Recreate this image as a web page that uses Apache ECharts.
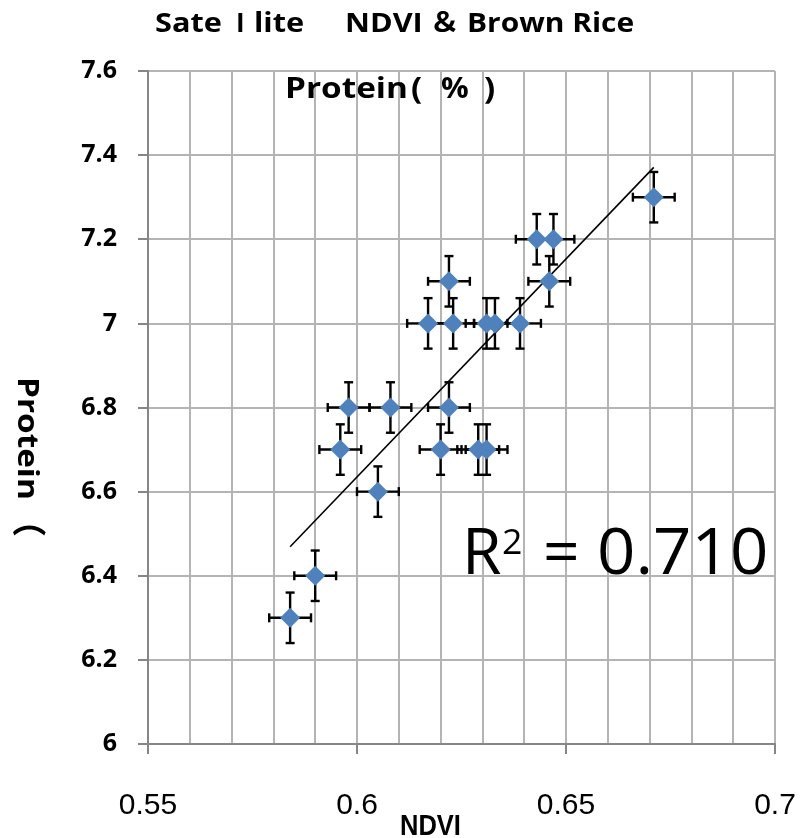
<!DOCTYPE html>
<html>
<head>
<meta charset="utf-8">
<script src="https://cdn.jsdelivr.net/npm/echarts@6/dist/echarts.min.js"></script>
<style>
html,body{margin:0;padding:0;background:#fff;}
#chart{width:800px;height:838px;}
</style>
</head>
<body>
<div id="chart"></div>
<script>
// ---- data ----
const ndvi = [0.643, 0.647, 0.646, 0.622, 0.617, 0.623, 0.631, 0.633, 0.639, 0.598,
              0.608, 0.622, 0.596, 0.620, 0.629, 0.631, 0.605, 0.590, 0.584, 0.671];
const protein = [7.2, 7.2, 7.1, 7.1, 7.0, 7.0, 7.0, 7.0, 7.0, 6.8,
                 6.8, 6.8, 6.7, 6.7, 6.7, 6.7, 6.6, 6.4, 6.3, 7.3];
const ndviErr = 0.005;
const proteinErr = 0.06;
const trendX = [0.584, 0.671];
const trendY = [6.469, 7.371];
const xTickLabels = [0.55, 0.6, 0.65, 0.7];
const yTickLabels = [6, 6.2, 6.4, 6.6, 6.8, 7, 7.2, 7.4, 7.6];
const r2Text = '0.710';

const points = ndvi.map((x, i) => [x, protein[i]]);
const trend = trendX.map((x, i) => [x, trendY[i]]);

const chart = echarts.init(document.getElementById('chart'), null, {renderer: 'canvas'});

const gridColor = '#b4b4b4';
const axisColor = '#868686';
const boldFont = (s) => 'bold ' + s + 'px "Open Sans", "Noto Sans CJK SC", sans-serif';
const cjkBold = (s) => 'bold ' + s + 'px "Noto Sans CJK SC", sans-serif';

function txt(text, x, y, font, sx, extra) {
  return Object.assign({
    type: 'text', x: x, y: y, z: 10, scaleX: sx || 1,
    style: {text: text, font: font, fill: '#000', textAlign: 'left', textVerticalAlign: 'top'}
  }, extra || {});
}

const option = {
  animation: false,
  backgroundColor: '#ffffff',
  grid: {left: 148, right: 25, top: 71, bottom: 94},
  xAxis: {
    type: 'value',
    min: 0.55, max: 0.7, interval: 0.05,
    axisLine: {show: true, onZero: false, lineStyle: {color: axisColor, width: 2}},
    axisTick: {show: true, inside: false, length: 10, lineStyle: {color: axisColor, width: 2}},
    minorTick: {show: true, splitNumber: 5, length: 0, lineStyle: {color: gridColor}},
    splitLine: {show: true, lineStyle: {color: gridColor, width: 2}},
    minorSplitLine: {show: true, lineStyle: {color: gridColor, width: 2}},
    axisLabel: {
      margin: 47,
      fontFamily: 'Liberation Sans, Arial, sans-serif',
      fontSize: 30, color: '#000',
      formatter: v => {
        const m = xTickLabels.find(t => Math.abs(t - v) < 1e-9);
        return m === undefined ? '' : String(m);
      }
    }
  },
  yAxis: {
    type: 'value',
    min: 6, max: 7.6, interval: 0.2,
    axisLine: {show: true, onZero: false, lineStyle: {color: axisColor, width: 2}},
    axisTick: {show: true, inside: false, length: 10, lineStyle: {color: axisColor, width: 2}},
    splitLine: {show: true, lineStyle: {color: gridColor, width: 2}},
    axisLabel: {
      margin: 31,
      fontFamily: 'Open Sans, sans-serif',
      fontWeight: 'bold',
      fontSize: 25, color: '#000',
      formatter: v => {
        const m = yTickLabels.find(t => Math.abs(t - v) < 1e-9);
        return m === undefined ? '' : String(m);
      }
    }
  },
  series: [
    {
      type: 'custom',
      data: points,
      z: 2,
      renderItem: function (params, api) {
        const x = api.value(0), y = api.value(1);
        const l = api.coord([x - ndviErr, y]);
        const r = api.coord([x + ndviErr, y]);
        const t = api.coord([x, y + proteinErr]);
        const b = api.coord([x, y - proteinErr]);
        const cap = 4.5;
        const st = {stroke: '#000', lineWidth: 2.4};
        return {
          type: 'group',
          children: [
            {type: 'line', shape: {x1: l[0], y1: l[1], x2: r[0], y2: r[1]}, style: st},
            {type: 'line', shape: {x1: l[0], y1: l[1] - cap, x2: l[0], y2: l[1] + cap}, style: st},
            {type: 'line', shape: {x1: r[0], y1: r[1] - cap, x2: r[0], y2: r[1] + cap}, style: st},
            {type: 'line', shape: {x1: t[0], y1: t[1], x2: b[0], y2: b[1]}, style: st},
            {type: 'line', shape: {x1: t[0] - cap, y1: t[1], x2: t[0] + cap, y2: t[1]}, style: st},
            {type: 'line', shape: {x1: b[0] - cap, y1: b[1], x2: b[0] + cap, y2: b[1]}, style: st}
          ]
        };
      }
    },
    {
      type: 'line',
      data: trend,
      z: 3,
      symbol: 'none',
      lineStyle: {color: '#000', width: 1.6},
      silent: true
    },
    {
      type: 'scatter',
      data: points,
      z: 4,
      symbol: 'diamond',
      symbolSize: 20,
      itemStyle: {color: '#4f81bd', opacity: 1}
    }
  ],
  graphic: [
    // title line 1
    txt('Sate', 155, 12, boldFont(26), 1.18),
    txt('I', 236, 12, boldFont(26), 1.0),
    txt('lite', 254, 12, boldFont(26), 1.18),
    txt('NDVI', 345, 12, boldFont(26), 1.18),
    txt('＆', 429, 11, boldFont(27), 1.15),
    txt('Brown Rice', 467, 12, boldFont(26), 1.15),
    // title line 2
    txt('Protein', 285, 76, boldFont(28), 1.19),
    txt('(', 411, 75, boldFont(30), 1.1),
    txt('%', 441, 76, boldFont(28), 1.1),
    txt(')', 484, 75, boldFont(30), 1.1),
    // y axis name (rotated)
    {
      type: 'text', x: 12, y: 377, rotation: -Math.PI / 2, z: 10, scaleX: 1.19,
      style: {text: 'Protein', font: boldFont(28), fill: '#000', textAlign: 'left', textVerticalAlign: 'bottom'}
    },
    {
      type: 'text', x: 12, y: 503, rotation: -Math.PI / 2, z: 10,
      style: {text: '（', font: cjkBold(34), fill: '#000', textAlign: 'left', textVerticalAlign: 'bottom'}
    },
    // x axis name
    txt('NDVI', 400, 812, 'bold 30px "Liberation Sans", Arial, sans-serif', 0.85),
    // R squared annotation
    txt('R', 462, 524, '64px "Open Sans", sans-serif', 1),
    txt('2', 502, 527, '34px "Open Sans", sans-serif', 1.05),
    txt('=', 543, 524, '64px "Open Sans", sans-serif', 1),
    txt(r2Text, 597, 524, '64px "Open Sans", sans-serif', 1.05)
  ]
};
chart.setOption(option);
</script>
</body>
</html>
